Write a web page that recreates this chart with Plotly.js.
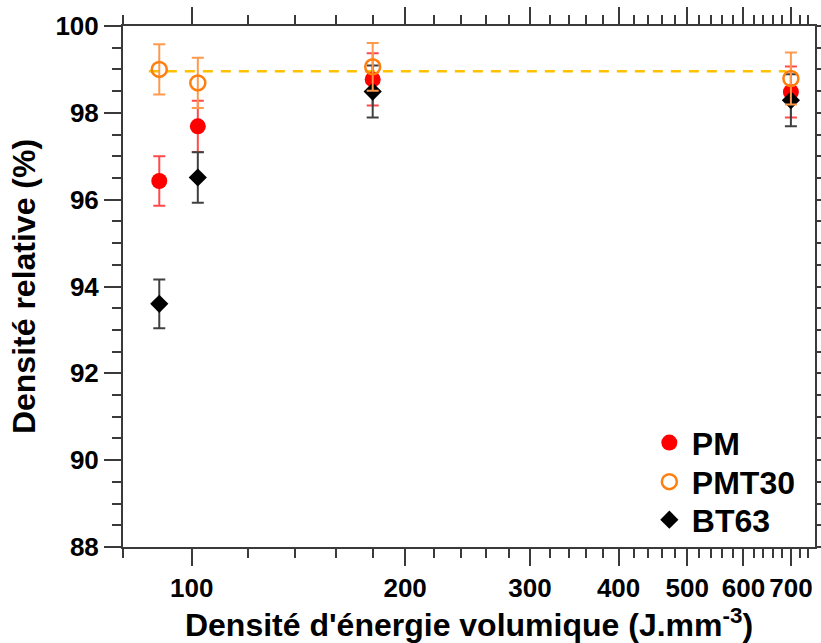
<!DOCTYPE html>
<html>
<head>
<meta charset="utf-8">
<script src="https://cdn.plot.ly/plotly-3.0.1.min.js"></script>
<style>html,body{margin:0;padding:0;background:#fff;}#chart{width:821px;height:643px;}</style>
</head>
<body>
<div id="chart"></div>
<script>
// Energy density (J.mm^-3)
var energy = [90, 102, 180, 700];
// Relative density (%)
var pmValues = [96.43, 97.69, 98.77, 98.48];
var pmErrors = [0.57, 0.59, 0.6, 0.59];
var pmt30Values = [99.0, 98.69, 99.06, 98.79];
var pmt30Errors = [0.58, 0.58, 0.55, 0.6];
var bt63Values = [93.6, 96.51, 98.49, 98.29];
var bt63Errors = [0.56, 0.58, 0.6, 0.6];
// Reference dashed line
var refLineX = [87, 690];
var refLineY = [98.96, 98.96];
var xTickVals = [100, 200, 300, 400, 500, 600, 700];
var xTickText = ['100', '200', '300', '400', '500', '600', '700'];

var minorX = [];
for (var v = 80; v <= 740; v += 20) { if (xTickVals.indexOf(v) < 0) minorX.push(v); }

var FONT = 'Liberation Sans, Arial, sans-serif';
var axisColor = '#3a3a3a';

var traces = [
  {
    x: refLineX, y: refLineY, mode: 'lines', showlegend: false, hoverinfo: 'skip',
    line: {color: '#FFC000', width: 2.5, dash: '10px,8px'}
  },
  {
    name: 'PM', x: energy, y: pmValues, mode: 'markers', legend: 'legend',
    marker: {symbol: 'circle', size: 16, color: '#FF0000'},
    error_y: {type: 'data', array: pmErrors, visible: true, color: '#FF4a4a', thickness: 2, width: 6}
  },
  {
    name: 'BT63', x: energy, y: bt63Values, mode: 'markers', legend: 'legend3',
    marker: {symbol: 'diamond', size: 14, color: '#000000'},
    error_y: {type: 'data', array: bt63Errors, visible: true, color: '#404040', thickness: 2, width: 6}
  },
  {
    name: 'PMT30', x: energy, y: pmt30Values, mode: 'markers', legend: 'legend2',
    marker: {symbol: 'circle-open', size: 15, color: '#FF7F0E', line: {width: 2.5, color: '#FF7F0E'}},
    error_y: {type: 'data', array: pmt30Errors, visible: true, color: '#FF9A4D', thickness: 2, width: 6}
  }
];

function legendAt(yc) {
  return {
    x: 0.757, y: yc, xanchor: 'left', yanchor: 'middle',
    bgcolor: 'rgba(0,0,0,0)', borderwidth: 0,
    font: {family: FONT, size: 32, color: '#000000', weight: 'bold'},
    itemwidth: 35
  };
}

var layout = {
  width: 821, height: 643,
  paper_bgcolor: '#ffffff', plot_bgcolor: '#ffffff',
  margin: {l: 123, r: 6, t: 26, b: 96},
  font: {family: FONT, color: '#000000'},
  showlegend: true,
  legend: legendAt(0.2),
  legend2: legendAt(0.125),
  legend3: legendAt(0.052),
  xaxis: {
    type: 'log',
    range: [Math.log10(80), Math.log10(757)],
    tickmode: 'array', tickvals: xTickVals, ticktext: xTickText,
    tickangle: 0,
    ticks: 'outside', ticklen: 17, tickwidth: 2, tickcolor: axisColor,
    minor: {tickmode: 'array', tickvals: minorX, ticks: 'outside', ticklen: 9, tickwidth: 2, tickcolor: axisColor, showgrid: false},
    showline: true, linecolor: axisColor, linewidth: 2, mirror: 'ticks',
    showgrid: false, zeroline: false,
    tickfont: {family: FONT, size: 26, color: '#000000', weight: 'bold'},
    title: {text: "Densité d'énergie volumique (J.mm<sup>-3</sup>)", font: {family: FONT, size: 32, color: '#000000', weight: 'bold'}, standoff: 6}
  },
  yaxis: {
    range: [88, 100], dtick: 2, tick0: 88,
    ticks: 'outside', ticklen: 17, tickwidth: 2, tickcolor: axisColor,
    minor: {dtick: 0.5, ticks: 'outside', ticklen: 9, tickwidth: 2, tickcolor: axisColor, showgrid: false},
    showline: true, linecolor: axisColor, linewidth: 2, mirror: 'ticks',
    showgrid: false, zeroline: false,
    tickfont: {family: FONT, size: 26, color: '#000000', weight: 'bold'},
    title: {text: 'Densité relative (%)', font: {family: FONT, size: 32, color: '#000000', weight: 'bold'}, standoff: 10}
  }
};

Plotly.newPlot('chart', traces, layout, {displayModeBar: false, staticPlot: true});
</script>
</body>
</html>
